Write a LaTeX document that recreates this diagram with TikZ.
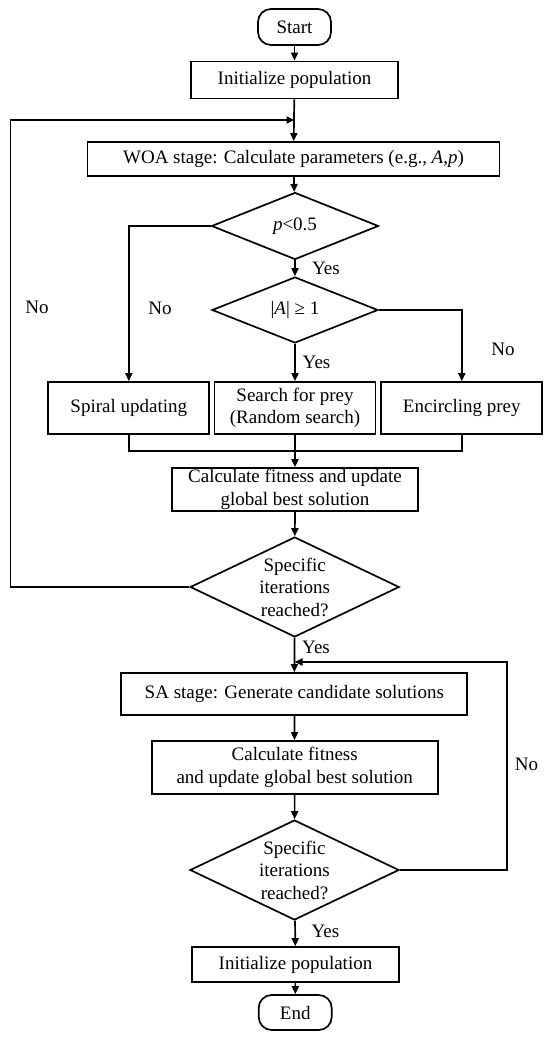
\documentclass[tikz,border=0pt]{standalone}
\usepackage{fontspec}
\setmainfont{Liberation Serif}
\usetikzlibrary{shapes.geometric,arrows.meta}
\begin{document}
\begin{tikzpicture}[x=1pt,y=-1pt, line width=1.7pt,
  every node/.style={font=\fontsize{19}{22.5}\selectfont},
  box/.style={draw, rectangle, inner sep=0pt, align=center},
  term/.style={draw, rectangle, rounded corners=13pt, inner sep=0pt},
  dia/.style={draw, diamond, inner sep=0pt},
  arr/.style={-{Triangle[length=8pt,width=7pt]}},
  lbl/.style={inner sep=0pt, align=center}]
\useasboundingbox (0,0) rectangle (550,1040);

\node[term, minimum width=73pt, minimum height=36pt] (start) at (294.5,27) {Start};
\node[box, minimum width=207pt, minimum height=37pt] (init) at (294.5,80) {Initialize population};
\node[box, minimum width=412pt, minimum height=34pt] (woa) at (293.5,159) {WOA stage: Calculate parameters (e.g., \textit{A},\textit{p})};
\node[dia, minimum width=167pt, minimum height=67pt] (d1) at (295,226) {};
\node[lbl] (d1t) at (d1.center) {\textit{p}<0.5};
\node[dia, minimum width=166pt, minimum height=66pt] (d2) at (295,310) {};
\node[lbl] (d2t) at (d2.center) {|\textit{A}| ≥ 1};
\node[box, minimum width=161pt, minimum height=52pt] (spiral) at (128.8,408) {Spiral updating};
\node[box, minimum width=161pt, minimum height=52pt] (search) at (295,408) {Search for prey\\(Random search)};
\node[box, minimum width=161pt, minimum height=52pt] (enc) at (461.8,408) {Encircling prey};
\node[box, minimum width=246pt, minimum height=43pt] (fit1) at (295,489.5) {Calculate fitness and update\\global best solution};
\node[dia, minimum width=209pt, minimum height=100pt] (d3) at (294.7,587) {};
\node[lbl] (d3t) at (d3.center) {Specific\\iterations\\reached?};
\node[box, minimum width=346pt, minimum height=42pt] (sa) at (294.3,694) {SA stage: Generate candidate solutions};
\node[box, minimum width=286pt, minimum height=53pt] (fit2) at (294.7,767.5) {Calculate fitness\\and update global best solution};
\node[dia, minimum width=209pt, minimum height=100pt] (d4) at (294.5,870) {};
\node[lbl] (d4t) at (d4.center) {Specific\\iterations\\reached?};
\node[box, minimum width=207pt, minimum height=35pt] (init2) at (295.5,964.5) {Initialize population};
\node[term, minimum width=73pt, minimum height=35pt] (end) at (295.2,1012.5) {End};

\coordinate (j1) at (294.5,120);
\coordinate (j2) at (294.5,662);
\coordinate (m) at (295,451);

\draw[arr] (start) -- (init);
\draw[arr] (init) -- (woa);
\draw[arr] (woa) -- (d1);
\draw[arr] (d1) -- (d2);
\draw[arr] (d1.west) -| (spiral.north);
\draw[arr] (d2) -- (search);
\draw[arr] (d2.east) -| (enc.north);
\draw (spiral.south) |- (m) -| (enc.south);
\draw[arr] (search.south) -- (fit1.north);
\draw[arr] (fit1) -- (d3);
\draw[arr] (d3.west) -- (10.5,587) |- (j1);
\draw[arr] (d3) -- (sa);
\draw[arr] (sa) -- (fit2);
\draw[arr] (fit2) -- (d4);
\draw[arr] (d4.east) -- (507,870) |- (j2);
\draw[arr] (d4) -- (init2);
\draw[arr] (init2) -- (end);

\node[lbl] (y1) at (326,268) {Yes};
\node[lbl] (y2) at (316.5,362) {Yes};
\node[lbl] (y3) at (316,647) {Yes};
\node[lbl] (y4) at (325.5,931) {Yes};
\node[lbl] (n1) at (37,307) {No};
\node[lbl] (n2) at (160,308) {No};
\node[lbl] (n3) at (503,349) {No};
\node[lbl] (n4) at (526.5,764) {No};
\end{tikzpicture}
\end{document}
